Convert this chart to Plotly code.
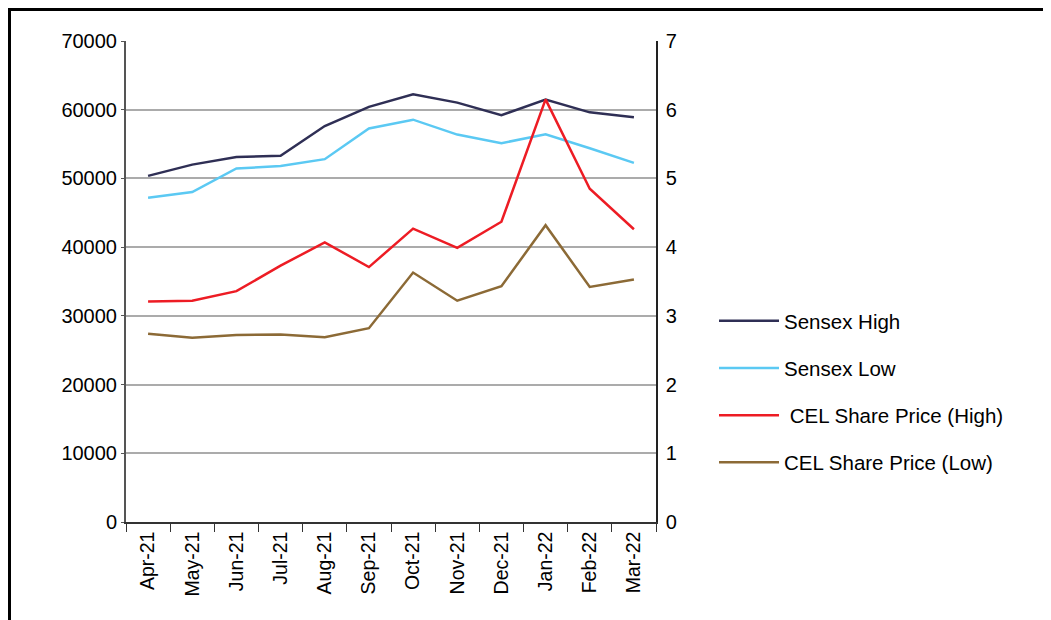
import plotly.graph_objects as go

months = ["Apr-21", "May-21", "Jun-21", "Jul-21", "Aug-21", "Sep-21",
          "Oct-21", "Nov-21", "Dec-21", "Jan-22", "Feb-22", "Mar-22"]
sensex_high = [50375, 52013, 53126, 53290, 57625, 60412, 62245, 61036, 59203, 61475, 59618, 58890]
sensex_low = [47204, 48028, 51450, 51802, 52804, 57264, 58551, 56382, 55132, 56409, 54383, 52260]
cel_high = [3.21, 3.22, 3.36, 3.73, 4.07, 3.71, 4.27, 3.99, 4.37, 6.15, 4.85, 4.26]
cel_low = [2.74, 2.68, 2.72, 2.73, 2.69, 2.82, 3.63, 3.22, 3.43, 4.32, 3.42, 3.53]

left_ticks = [0, 10000, 20000, 30000, 40000, 50000, 60000, 70000]
right_ticks = [0, 1, 2, 3, 4, 5, 6, 7]

# page has an 8px body margin; figure coordinates = screen - 8
OFF = 8
W, H = 1043, 612
L, R, T, B = 126 - OFF, 656 - OFF, 41 - OFF, 522 - OFF

fig = go.Figure()
fig.add_trace(go.Scatter(x=months, y=sensex_high, name="Sensex High", mode="lines",
                         line=dict(color="#2f2f55", width=2.5), legendgroup="a"))
fig.add_trace(go.Scatter(x=months, y=sensex_low, name="Sensex Low", mode="lines",
                         line=dict(color="#5bc9f3", width=2.5), legendgroup="b"))
fig.add_trace(go.Scatter(x=months, y=cel_high, name=" CEL Share Price (High)", mode="lines",
                         line=dict(color="#ed1c24", width=2.5), yaxis="y2", legendgroup="c"))
fig.add_trace(go.Scatter(x=months, y=cel_low, name="CEL Share Price (Low)", mode="lines",
                         line=dict(color="#8c6a36", width=2.5), yaxis="y2", legendgroup="d"))

def px_x(px):
    return (px - OFF - L) / (R - L)

def px_y(py):
    return (B - (py - OFF)) / (B - T)

fig.update_layout(
    width=W, height=H,
    margin=dict(l=L, r=W - R, t=T, b=H - B, pad=0),
    paper_bgcolor="white", plot_bgcolor="white",
    font=dict(family="Liberation Sans, Arial", size=20, color="black"),
    xaxis=dict(type="category", range=[-0.5, 11.5], tickangle=-90,
               tickson="boundaries", ticks="outside", ticklen=8, tickcolor="#333",
               showline=True, linecolor="#333", linewidth=1.5,
               showgrid=False, tickfont=dict(size=19.5)),
    yaxis=dict(range=[0, 70000], tickvals=left_ticks, ticktext=[str(v) for v in left_ticks],
               showgrid=True, gridcolor="#ababab", gridwidth=1.5,
               showline=True, linecolor="#555", linewidth=2,
               ticks="outside", ticklen=3, tickcolor="#555", zeroline=False,
               tickfont=dict(size=20)),
    yaxis2=dict(range=[0, 7], tickvals=right_ticks, overlaying="y", side="right",
                showgrid=False, showline=True, linecolor="#222", linewidth=1.5,
                ticks="", zeroline=False, tickfont=dict(size=20), ticklabelstandoff=4),
    legend=dict(x=px_x(714), y=px_y(301), xanchor="left", yanchor="top",
                bgcolor="rgba(0,0,0,0)", font=dict(size=20.5),
                tracegroupgap=17.5, traceorder="grouped", itemwidth=60),
    showlegend=True,
)

# outer frame lines (top and left)
fig.add_shape(type="line", xref="paper", yref="paper",
              x0=px_x(8), x1=px_x(1070), y0=px_y(9.5), y1=px_y(9.5),
              line=dict(color="black", width=3))
fig.add_shape(type="line", xref="paper", yref="paper",
              x0=px_x(9.5), x1=px_x(9.5), y0=px_y(8), y1=px_y(640),
              line=dict(color="black", width=3))

fig.write_html("out.html")
